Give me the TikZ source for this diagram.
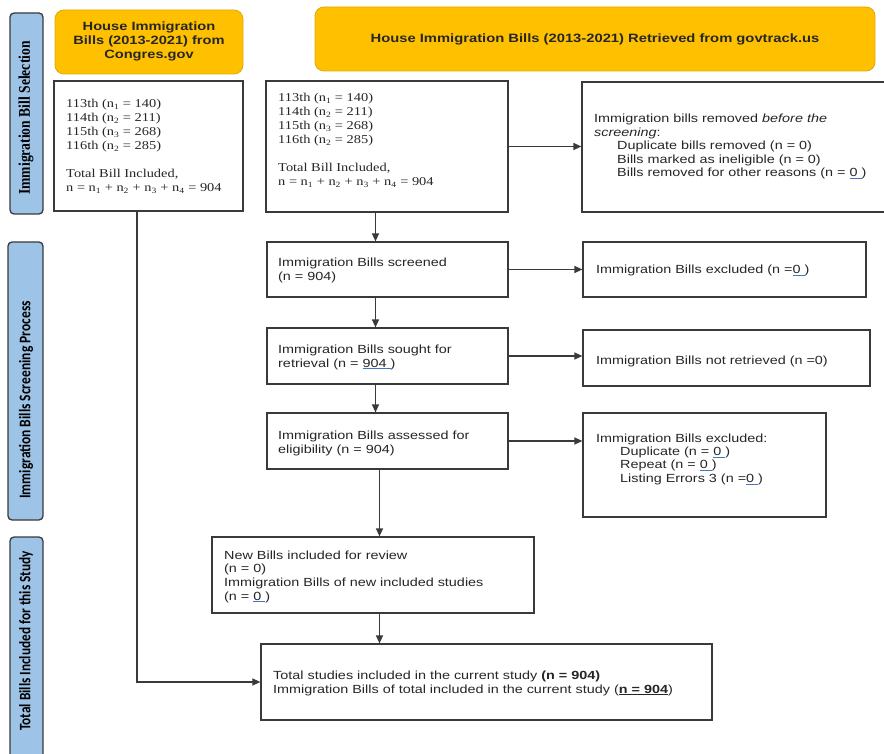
\documentclass[tikz,border=0pt]{standalone}
\usepackage{fontspec}
\setmainfont{Liberation Sans}[FakeStretch=1.22]
\newfontfamily\tms{Liberation Serif}[FakeStretch=1.2]
\newfontfamily\tmsn{Liberation Serif}
\newfontfamily\carl{Carlito}
\usetikzlibrary{arrows.meta}
\definecolor{ora}{HTML}{FFC000}
\definecolor{orad}{HTML}{E3A800}
\definecolor{sideblue}{HTML}{9DC3E6}
\definecolor{ink}{HTML}{262626}
\definecolor{edge}{HTML}{3A3A3A}
\definecolor{lnk}{HTML}{4472C4}
\newcommand\bul[1]{\textcolor{lnk}{\underline{\textcolor{ink}{#1}}}}
\newcommand\LnA[1]{\hbox{#1}}
\newcommand\MLs[2]{\vtop{\baselineskip=#1pt #2}}
\newcommand\bx[6][box]{\node[#1, minimum width={#5-#3}, minimum height={#6-#4}] (#2) at ({(#3+#5)/2},{(#4+#6)/2}) {};}
\begin{document}
\begin{tikzpicture}[x=1pt,y=-1pt,
  box/.style={draw=edge, line width=1.2pt, fill=white, inner sep=0, rectangle},
  orabox/.style={draw=orad, line width=0.8pt, fill=ora, rounded corners=9pt, inner sep=0, rectangle},
  sidebox/.style={draw=edge, line width=1.3pt, fill=sideblue, rounded corners=4pt, inner sep=0, rectangle},
  txt/.style={inner sep=0, anchor=base west, text=ink, font=\fontsize{11.8}{13.6}\selectfont},
  stxt/.style={inner sep=0, anchor=base west, text=ink, font=\tms\fontsize{12}{14}\selectfont},
  hdr/.style={inner sep=0, text=ink, font=\bfseries\fontsize{12.3}{14}\selectfont, align=center},
  side/.style={inner sep=0, text=black, rotate=90, yscale=1.2},
  arr/.style={-{Triangle[length=8pt,width=7pt]}, line width=1.3pt, draw=edge}]
\fill[white] (0,0) rectangle (884,754);
\useasboundingbox (0,0) rectangle (884,754);

% side bars
\bx[sidebox]{sb1}{10}{13}{43}{214}
\bx[sidebox]{sb2}{8}{242}{43}{520}
\bx[sidebox]{sb3}{10}{537}{43}{762}
\node[side, font=\tmsn\bfseries\fontsize{13.6}{15}\selectfont] (sl1) at (26,118) {Immigration Bill Selection};
\node[side, font=\carl\bfseries\fontsize{13.5}{15}\selectfont] (sl2) at (26,400) {Immigration Bills Screening Process};
\node[side, font=\carl\bfseries\fontsize{13.3}{15}\selectfont] (sl3) at (26,641) {Total Bills Included for this Study};

% orange headers
\bx[orabox]{o1}{55}{10}{243}{74}
\bx[orabox]{o2}{315}{7}{875}{71}
\node[hdr, font=\bfseries\fontsize{12}{14}\selectfont] (o1t) at (149,41.5) {House Immigration\\Bills (2013-2021) from\\Congres.gov};
\node[hdr, font=\bfseries\fontsize{12.1}{14}\selectfont] (o2t) at (595,39) {House Immigration Bills (2013-2021) Retrieved from govtrack.us};

% boxes
\bx{L1}{54}{81}{243}{211}
\bx{M1}{266}{81}{508}{212}
\bx{R1}{582}{82}{892}{212}
\bx{S}{267}{242}{508}{297}
\bx{X1}{583}{242}{866}{297}
\bx{SR}{267}{328}{508}{384}
\bx{NR}{583}{330}{870}{386}
\bx{AS}{267}{413}{508}{469}
\bx{X2}{583}{413}{826}{517}
\bx{NB}{212}{537}{534}{613}
\bx{TT}{261}{644}{712}{720}

% texts
\node[stxt] (L1t) at (66,108) {\MLs{14}{%
 \LnA{113th (n\textsubscript{1} = 140)}\LnA{114th (n\textsubscript{2} = 211)}%
 \LnA{115th (n\textsubscript{3} = 268)}\LnA{116th (n\textsubscript{2} = 285)}\LnA{}%
 \LnA{Total Bill Included,}\LnA{n = n\textsubscript{1} + n\textsubscript{2} + n\textsubscript{3} + n\textsubscript{4} = 904}}};
\node[stxt] (M1t) at (278,102) {\MLs{14}{%
 \LnA{113th (n\textsubscript{1} = 140)}\LnA{114th (n\textsubscript{2} = 211)}%
 \LnA{115th (n\textsubscript{3} = 268)}\LnA{116th (n\textsubscript{2} = 285)}\LnA{}%
 \LnA{Total Bill Included,}\LnA{n = n\textsubscript{1} + n\textsubscript{2} + n\textsubscript{3} + n\textsubscript{4} = 904}}};
\node[txt] (R1t) at (594,123) {\MLs{13.5}{%
 \LnA{Immigration bills removed \textit{before the}}\LnA{\textit{screening}:}%
 \LnA{\kern23pt Duplicate bills removed (n = 0)}%
 \LnA{\kern23pt Bills marked as ineligible (n = 0)}%
 \LnA{\kern23pt Bills removed for other reasons (n = \bul{0\ })}}};
\node[txt] (St) at (278,267) {\MLs{14}{\LnA{Immigration Bills screened}\LnA{(n = 904)}}};
\node[txt] (X1t) at (596,274) {Immigration Bills excluded (n =\bul{0\ })};
\node[txt] (SRt) at (278,353) {\MLs{14}{\LnA{Immigration Bills sought for}\LnA{retrieval (n = \bul{904\ })}}};
\node[txt] (NRt) at (596,364) {Immigration Bills not retrieved (n =0)};
\node[txt] (ASt) at (278,439) {\MLs{14}{\LnA{Immigration Bills assessed for}\LnA{eligibility (n = 904)}}};
\node[txt] (X2t) at (596,442) {\MLs{13.4}{%
 \LnA{Immigration Bills excluded:}%
 \LnA{\kern24pt Duplicate (n = \bul{0\ })}%
 \LnA{\kern24pt Repeat (n = \bul{0\ })}%
 \LnA{\kern24pt Listing Errors 3 (n =\bul{0\ })}}};
\node[txt] (NBt) at (224,559) {\MLs{13.7}{%
 \LnA{New Bills included for review}\LnA{(n = 0)}%
 \LnA{Immigration Bills of new included studies}\LnA{(n = \bul{0\ })}}};
\node[txt] (TTt) at (273,679) {\MLs{14}{%
 \LnA{Total studies included in the current study \textbf{(n = 904)}}%
 \LnA{Immigration Bills of total included in the current study (\underline{\textbf{n = 904}})}}};

% column coordinates
\coordinate (colA) at (375.5,0);
\coordinate (colB) at (379.5,0);
\coordinate (colL) at (137,0);

% connectors
\draw[arr] (M1.east) -- (M1.east -| R1.west);
\draw[arr] (S.east) -- (S.east -| X1.west);
\draw[arr] (SR.east) -- (SR.east -| NR.west);
\draw[arr] (AS.east) -- (AS.east -| X2.west);
\draw[arr] (M1.south -| colA) -- (S.north -| colA);
\draw[arr] (S.south -| colA) -- (SR.north -| colA);
\draw[arr] (SR.south -| colA) -- (AS.north -| colA);
\draw[arr] (AS.south -| colB) -- (NB.north -| colB);
\draw[arr] (NB.south -| colB) -- (TT.north -| colB);
\draw[arr] (L1.south -| colL) |- (TT.west);
\end{tikzpicture}
\end{document}
